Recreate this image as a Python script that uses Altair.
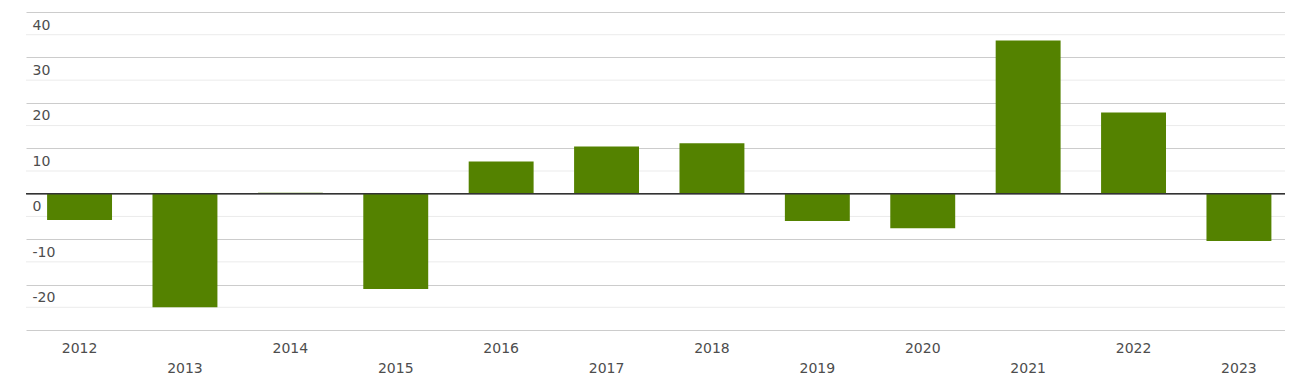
import altair as alt
import pandas as pd

years = ["2012", "2013", "2014", "2015", "2016", "2017", "2018", "2019", "2020", "2021", "2022", "2023"]
values = [-5.8, -25.0, 0.2, -21.0, 7.1, 10.4, 11.1, -6.0, -7.6, 33.7, 17.9, -10.4]
major_ticks = [-30, -20, -10, 0, 10, 20, 30, 40]
minor_ticks = [-25, -15, -5, 5, 15, 25, 35]
y_domain = [-30, 40]
zero_line = [0]

df = pd.DataFrame({"year": years, "value": values})

FONT = "DejaVu Sans"
LABEL_COLOR = "#4d4d4d"

y_scale = alt.Scale(domain=y_domain, nice=False)
y_axis = alt.Axis(
    title=None,
    values=major_ticks,
    grid=True,
    gridColor="#cccccc",
    gridWidth=1,
    domain=False,
    ticks=False,
    tickSize=0,
    labelAlign="left",
    labelBaseline="top",
    labelPadding=-6,
    labelOffset=6,
    labelOverlap=False,
    labelExpr="datum.value > -30 ? '' + datum.value : ''",
    labelFontSize=14,
    labelFont=FONT,
    labelColor=LABEL_COLOR,
)

minor = alt.Chart(pd.DataFrame({"m": minor_ticks})).mark_rule(color="#ebebeb", strokeWidth=1).encode(
    y=alt.Y("m:Q", scale=y_scale, axis=y_axis)
)

bars = alt.Chart(df).mark_bar(color="#548200").encode(
    x=alt.X(
        "year:N",
        sort=None,
        scale=alt.Scale(paddingInner=0.384, paddingOuter=0.1646, align=0.608),
        axis=alt.Axis(
            title=None,
            labelAngle=0,
            ticks=False,
            tickSize=0,
            domain=False,
            grid=False,
            labelPadding=11,
            labelLineHeight=20,
            labelExpr="toNumber(datum.value) % 2 == 1 ? ['', datum.label] : datum.label",
            labelFontSize=14,
            labelFont=FONT,
            labelColor=LABEL_COLOR,
        ),
    ),
    y=alt.Y("value:Q", scale=y_scale, axis=y_axis),
    y2=alt.datum(0),
)

zero = alt.Chart(pd.DataFrame({"z": zero_line})).mark_rule(color="#333333", strokeWidth=1.5).encode(
    y=alt.Y("z:Q", scale=y_scale, axis=y_axis)
)

chart = alt.layer(minor, bars, zero).properties(
    width=1259,
    height=318,
    autosize=alt.AutoSizeParams(type="none"),
    padding={"left": 18, "top": 4, "right": 0, "bottom": 50},
).configure_view(stroke=None)

chart.save("out.html", embed_options={"renderer": "svg", "actions": False})
